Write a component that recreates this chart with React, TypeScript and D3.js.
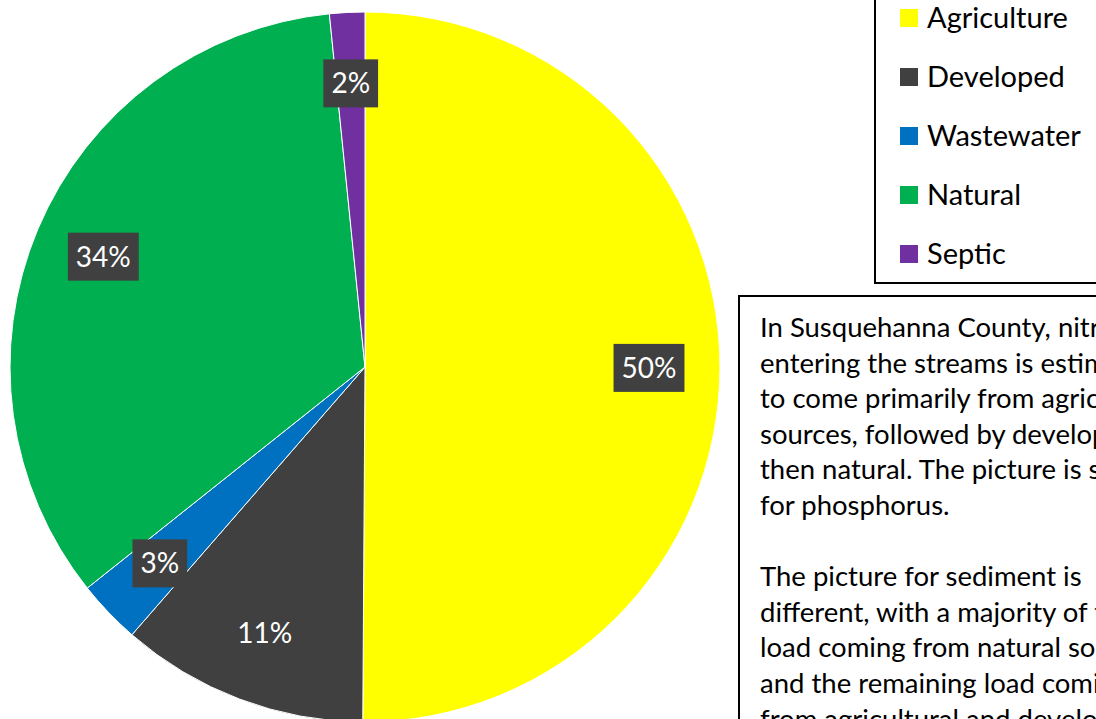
import React, { useEffect, useRef } from "react";
import * as d3 from "d3";

const categories = ["Agriculture", "Developed", "Wastewater", "Natural", "Septic"];
const values = [50.1, 11.3, 2.9, 34.1, 1.6];
const colors = ["#FFFF00", "#404040", "#0070C0", "#00B050", "#7030A0"];
const noteLines = [
  "In Susquehanna County, nitrogen",
  "entering the streams is estimated",
  "to come primarily from agricultural",
  "sources, followed by developed and",
  "then natural. The picture is similar",
  "for phosphorus.",
  "",
  "The picture for sediment is",
  "different, with a majority of the",
  "load coming from natural sources",
  "and the remaining load coming",
  "from agricultural and developed",
];

const FONT = "Lato, 'Open Sans', sans-serif";

export default function App() {
  const ref = useRef<SVGSVGElement>(null);

  useEffect(() => {
    const svg = d3.select(ref.current);
    svg.selectAll("*").remove();
    svg.append("rect").attr("width", 1096).attr("height", 719).attr("fill", "#fff");

    const cx = 365, cy = 367, R = 355;
    const pie = d3.pie<number>().sort(null).value((d) => d);
    const arcs = pie(values);
    const arc = d3.arc<d3.PieArcDatum<number>>().innerRadius(0).outerRadius(R);
    const labelArc = d3.arc<d3.PieArcDatum<number>>().innerRadius(R * 0.8).outerRadius(R * 0.8);
    const total = d3.sum(values);

    const g = svg.append("g").attr("transform", `translate(${cx},${cy})`);
    g.selectAll("path.slice")
      .data(arcs)
      .join("path")
      .attr("class", "slice")
      .attr("d", arc as any)
      .attr("fill", (_d, i) => colors[i])
      .attr("stroke", "#ffffff")
      .attr("stroke-width", 1);

    const lg = g
      .selectAll("g.lbl")
      .data(arcs)
      .join("g")
      .attr("class", "lbl")
      .attr("transform", (d) => `translate(${labelArc.centroid(d)})`);
    lg.each(function (d) {
      const sel = d3.select(this);
      const rect = sel.append("rect");
      const t = sel
        .append("text")
        .text(`${Math.round((d.data / total) * 100)}%`)
        .attr("text-anchor", "middle")
        .attr("dy", "0.36em")
        .attr("fill", "#ffffff")
        .attr("font-family", FONT)
        .attr("font-size", 28);
      const w = (t.node() as SVGTextElement).getComputedTextLength();
      rect
        .attr("x", -w / 2 - 8)
        .attr("y", -24)
        .attr("width", w + 16)
        .attr("height", 48)
        .attr("fill", "#404040");
    });

    // Legend
    const leg = svg.append("g");
    leg
      .append("rect")
      .attr("x", 875)
      .attr("y", -10)
      .attr("width", 300)
      .attr("height", 293)
      .attr("fill", "#fff")
      .attr("stroke", "#000")
      .attr("stroke-width", 2);
    const ly = d3.scalePoint<string>().domain(categories).range([18, 254]);
    const items = leg
      .selectAll("g.item")
      .data(categories)
      .join("g")
      .attr("class", "item")
      .attr("transform", (d) => `translate(900,${ly(d)})`);
    items
      .append("rect")
      .attr("x", 0)
      .attr("y", -9)
      .attr("width", 18)
      .attr("height", 18)
      .attr("fill", (_d, i) => colors[i]);
    items
      .append("text")
      .attr("x", 27)
      .attr("dy", "0.36em")
      .attr("font-family", FONT)
      .attr("font-size", 29)
      .attr("fill", "#000")
      .text((d) => d);

    // Note box
    const note = svg.append("g");
    note
      .append("rect")
      .attr("x", 739)
      .attr("y", 296)
      .attr("width", 420)
      .attr("height", 500)
      .attr("fill", "#fff")
      .attr("stroke", "#000")
      .attr("stroke-width", 2);
    const lineY = d3.scaleLinear().domain([0, 1]).range([337, 372.6]);
    note
      .selectAll("text")
      .data(noteLines)
      .join("text")
      .attr("x", 760)
      .attr("y", (_d, i) => lineY(i))
      .attr("font-family", FONT)
      .attr("font-size", 27.5)
      .attr("fill", "#000")
      .text((d) => d);
  }, []);

  return (
    <svg
      ref={ref}
      width={1096}
      height={719}
      style={{ position: "absolute", left: 0, top: 0, display: "block" }}
    />
  );
}
